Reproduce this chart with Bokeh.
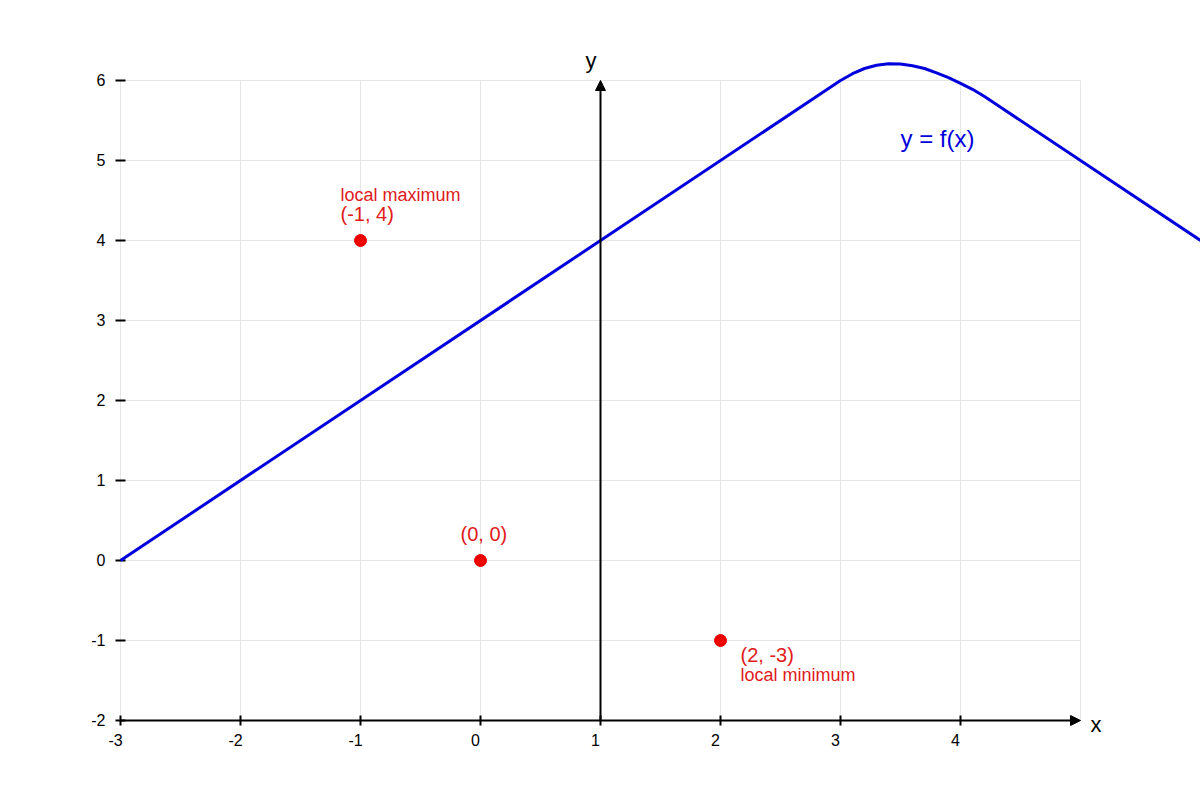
from bokeh.plotting import figure
from bokeh.models import Range1d, Arrow, NormalHead, ColumnDataSource, LabelSet, Label
from bokeh.core.properties import value
from bokeh.embed import file_html
from bokeh.resources import INLINE

# ---- data ----
x_ticks = [-3, -2, -1, 0, 1, 2, 3, 4]
x_tick_labels = ["-3", "-2", "-1", "0", "1", "2", "3", "4"]
y_ticks = [-2, -1, 0, 1, 2, 3, 4, 5, 6]
y_tick_labels = ["-2", "-1", "0", "1", "2", "3", "4", "5", "6"]
grid_x = [-3, -2, -1, 0, 1, 2, 3, 4, 5]
grid_y = [-2, -1, 0, 1, 2, 3, 4, 5, 6]

curve_x = [-3, 3.0, 3.1, 3.2, 3.3, 3.4, 3.5, 3.6, 3.7, 3.8, 3.9, 4.0, 4.1, 4.2, 4.3, 6]
curve_y = [0, 6.0, 6.085, 6.15, 6.19, 6.21, 6.205, 6.185, 6.15, 6.095, 6.035, 5.965,
           5.89, 5.80, 5.70, 4.0]

pt_x = [-1, 0, 2]
pt_y = [4, 0, -1]
pt_labels = ["(-1, 4)", "(0, 0)", "(2, -3)"]
desc_x = [-1, 2]
desc_y = [4, -1]
desc_labels = ["local maximum", "local minimum"]

FONT = "Liberation Sans"
RED = "#e01b1b"

p = figure(width=1200, height=800, x_range=Range1d(-4, 6), y_range=Range1d(-3, 7),
           x_axis_type=None, y_axis_type=None, toolbar_location=None,
           output_backend="svg", min_border=0)
p.outline_line_color = None
p.background_fill_color = "white"

# grid
x_lo, x_hi = grid_x[0], grid_x[-1]
y_lo, y_hi = grid_y[0], grid_y[-1]
p.segment(x0=grid_x, y0=[y_lo] * len(grid_x), x1=grid_x, y1=[y_hi] * len(grid_x),
          line_color="#e6e6e6", line_width=1)
p.segment(x0=[x_lo] * len(grid_y), y0=grid_y, x1=[x_hi] * len(grid_y), y1=grid_y,
          line_color="#e6e6e6", line_width=1)

# axes (arrows)
p.add_layout(Arrow(x_start=x_lo, y_start=y_lo, x_end=x_hi, y_end=y_lo,
                   line_color="black", line_width=2,
                   end=NormalHead(size=10, fill_color="black", line_color="black")))
p.add_layout(Arrow(x_start=1, y_start=y_lo, x_end=1, y_end=y_hi,
                   line_color="black", line_width=2,
                   end=NormalHead(size=10, fill_color="black", line_color="black")))

# tick marks
p.scatter(x=[x_lo] * len(y_ticks), y=y_ticks, marker="dash", size=10,
          line_color="black", line_width=2)
p.scatter(x=x_ticks, y=[y_lo] * len(x_ticks), marker="dash", angle=1.5708, size=10,
          line_color="black", line_width=2)

# tick labels
ysrc = ColumnDataSource(dict(x=[x_lo] * len(y_ticks), y=y_ticks, t=y_tick_labels))
p.add_layout(LabelSet(x="x", y="y", text="t", source=ysrc, x_offset=-15, y_offset=-5,
                      text_align="right", text_baseline="alphabetic",
                      text_font=value(FONT), text_font_size="16px", text_color="black"))
xsrc = ColumnDataSource(dict(x=x_ticks, y=[y_lo] * len(x_ticks), t=x_tick_labels))
p.add_layout(LabelSet(x="x", y="y", text="t", source=xsrc, x_offset=-5, y_offset=-25,
                      text_align="center", text_baseline="alphabetic",
                      text_font=value(FONT), text_font_size="16px", text_color="black"))

# axis names
p.add_layout(Label(x=x_hi, y=y_lo, text="x", x_offset=10, y_offset=-16,
                   text_font=FONT, text_font_size="22px", text_color="black"))
p.add_layout(Label(x=1, y=y_hi, text="y", x_offset=-15, y_offset=8,
                   text_font=FONT, text_font_size="22px", text_color="black"))

# curve
p.line(curve_x, curve_y, line_color="#0000dd", line_width=3, line_join="round")
p.add_layout(Label(x=3.5, y=5.11, text="y = f(x)", text_font=FONT,
                   text_font_size="24px", text_color="#0000dd"))

# points
p.scatter(pt_x, pt_y, size=12, fill_color="#ee0000", line_color="#ee0000")

# point labels
top_src = ColumnDataSource(dict(x=pt_x[:2], y=pt_y[:2], t=pt_labels[:2]))
p.add_layout(LabelSet(x="x", y="y", text="t", source=top_src, x_offset=-20, y_offset=20,
                      text_align="left", text_baseline="alphabetic",
                      text_font=value(FONT), text_font_size="20px", text_color=RED))
bot_src = ColumnDataSource(dict(x=pt_x[2:], y=pt_y[2:], t=pt_labels[2:]))
p.add_layout(LabelSet(x="x", y="y", text="t", source=bot_src, x_offset=20, y_offset=-21,
                      text_align="left", text_baseline="alphabetic",
                      text_font=value(FONT), text_font_size="20px", text_color=RED))
d_src = ColumnDataSource(dict(x=desc_x, y=desc_y, t=desc_labels,
                              xo=[-20, 20], yo=[40, -40]))
p.add_layout(LabelSet(x="x", y="y", text="t", source=d_src, x_offset="xo", y_offset="yo",
                      text_align="left", text_baseline="alphabetic",
                      text_font=value(FONT), text_font_size="18px", text_color=RED))

open("out.html", "w").write(file_html(p, INLINE))
